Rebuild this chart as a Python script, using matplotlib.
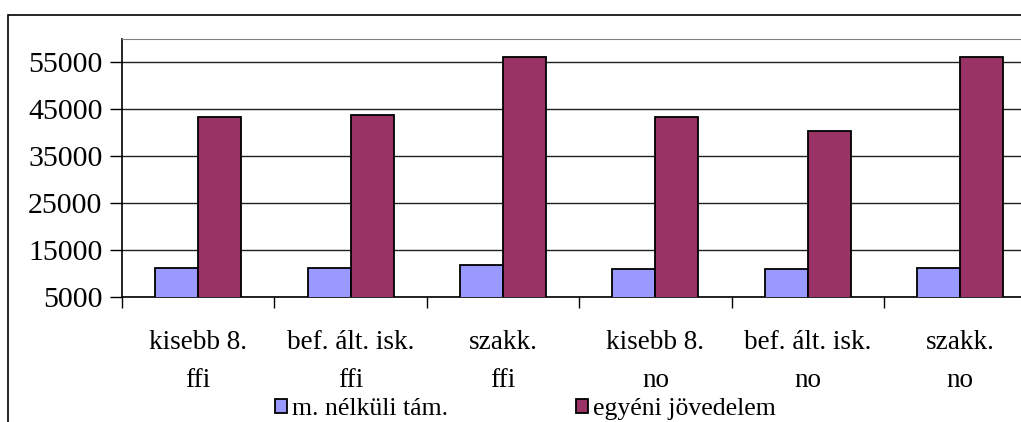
import numpy as np
import matplotlib.pyplot as plt
from matplotlib.patches import Rectangle

categories = ["kisebb 8.\nffi", "bef. ált. isk.\nffi", "szakk.\nffi",
              "kisebb 8.\nno", "bef. ált. isk.\nno", "szakk.\nno"]
tam = [11200, 11200, 11800, 11000, 10900, 11250]
jov = [43400, 43700, 56100, 43400, 40300, 56100]
series_names = ["m. nélküli tám.", "egyéni jövedelem"]
yticks = [5000, 15000, 25000, 35000, 45000, 55000]

plt.rcParams["font.family"] = ["Liberation Serif", "DejaVu Serif"]

fig = plt.figure(figsize=(10.21, 4.22), dpi=100)

# outer chart border (right and bottom fall outside the picture)
fig.patches.append(Rectangle((8 / 1021, -0.1), 1.1, (422 - 15) / 422 + 0.1,
                             transform=fig.transFigure, fill=False,
                             edgecolor="black", linewidth=1.2))

ax = fig.add_axes([122 / 1021, 125 / 422, 914.4 / 1021, 258 / 422])
x = np.arange(len(categories))
w = 0.282
ax.bar(x - w / 2, tam, w, color="#9999FF", edgecolor="black",
       linewidth=1.3, zorder=3, label=series_names[0])
ax.bar(x + w / 2, jov, w, color="#993366", edgecolor="black",
       linewidth=1.3, zorder=3, label=series_names[1])

ax.set_ylim(5000, 60000)
ax.set_xlim(-0.5, len(categories) - 0.5)
ax.set_yticks(yticks)
ax.yaxis.grid(True, color="#202020", linewidth=1.0, zorder=0)
ax.tick_params(axis="y", length=9, width=1, pad=5, labelsize=21.5)

ax.set_xticks(np.arange(-0.5, len(categories), 1.0))
ax.set_xticklabels([])
ax.set_xticks(x, minor=True)
ax.set_xticklabels(categories, minor=True, linespacing=1.65)
ax.tick_params(axis="x", which="major", length=8, width=1)
ax.tick_params(axis="x", which="minor", length=0, pad=24, labelsize=19.5)

ax.spines["top"].set_color("#808080")
ax.spines["right"].set_visible(False)
for s in ("left", "bottom"):
    ax.spines[s].set_linewidth(1.2)

fig.legend(loc="center left", bbox_to_anchor=(275 / 1021, 1 - 409 / 422),
           ncol=2, frameon=False, fontsize=18.5, handlelength=0.45,
           handleheight=0.45, handletextpad=0.2, columnspacing=5.0,
           borderaxespad=0, borderpad=0)

fig.savefig("out.png", dpi=100)
